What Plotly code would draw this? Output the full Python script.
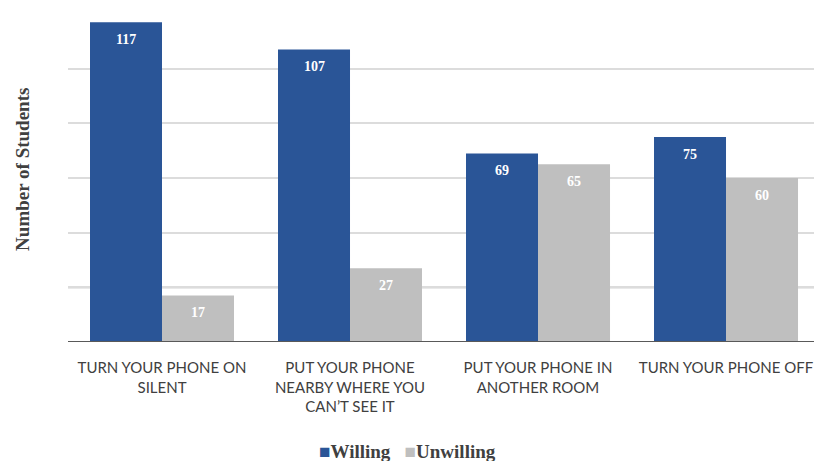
import plotly.graph_objects as go

categories = ["TURN YOUR PHONE ON<br>SILENT",
              "PUT YOUR PHONE<br>NEARBY WHERE YOU<br>CAN’T SEE IT",
              "PUT YOUR PHONE IN<br>ANOTHER ROOM",
              "TURN YOUR PHONE OFF"]
willing = [117, 107, 69, 75]
unwilling = [17, 27, 65, 60]
series_names = ["Willing", "Unwilling"]
colors = ["#2A5597", "#BFBFBF"]

fig = go.Figure()
for name, vals, col in zip(series_names, [willing, unwilling], colors):
    fig.add_trace(go.Bar(x=list(range(len(categories))), y=vals, name=name,
                         marker=dict(color=col, line=dict(width=0)),
                         showlegend=False))

# value labels near the top of each bar
for k, vals in enumerate([willing, unwilling]):
    off = -0.19 if k == 0 else 0.19
    for i, v in enumerate(vals):
        fig.add_annotation(x=i + off, y=v, xref="x", yref="y", text=f"<b>{v}</b>",
                           showarrow=False, yanchor="middle", yshift=-17,
                           font=dict(family="Liberation Serif", size=14, color="white"))

fig.update_layout(
    width=814, height=461,
    margin=dict(l=68, r=0, t=14, b=119),
    plot_bgcolor="white", paper_bgcolor="white",
    barmode="group", bargap=0.234, bargroupgap=0,
    xaxis=dict(range=[-0.5, 3.468], showgrid=False, ticks="", showline=False,
               tickmode="array", tickvals=list(range(len(categories))), ticktext=categories,
               ticklabelstandoff=15,
               tickfont=dict(family="Lato", size=15, color="#404040")),
    yaxis=dict(range=[0, 120], dtick=20, showticklabels=False, ticks="",
               showgrid=True, gridcolor="#DCDCDC", gridwidth=2, zeroline=False, showline=False),
    font=dict(family="Liberation Sans"),
)
fig.add_shape(type="line", xref="paper", yref="y", x0=0, x1=1, y0=20, y1=20,
              line=dict(color="#A6A6A6", width=2), layer="below")
fig.add_shape(type="line", xref="paper", yref="y", x0=0, x1=1, y0=0, y1=0,
              line=dict(color="#595959", width=2), layer="above")
fig.add_annotation(text="<b>Number of Students</b>", xref="paper", yref="paper",
                   x=-0.062, y=0.527, xanchor="center", yanchor="middle", textangle=-90,
                   showarrow=False,
                   font=dict(family="Liberation Serif", size=19, color="#404040"))
legend_text = "   ".join(f"<span style='color:{c}'>■</span><b>{n}</b>"
                          for n, c in zip(series_names, colors))
fig.add_annotation(text=legend_text, xref="paper", yref="paper",
                   x=0.455, y=-0.335, xanchor="center", yanchor="middle",
                   showarrow=False,
                   font=dict(family="Liberation Serif", size=19, color="#404040"))

fig.write_html("out.html")
